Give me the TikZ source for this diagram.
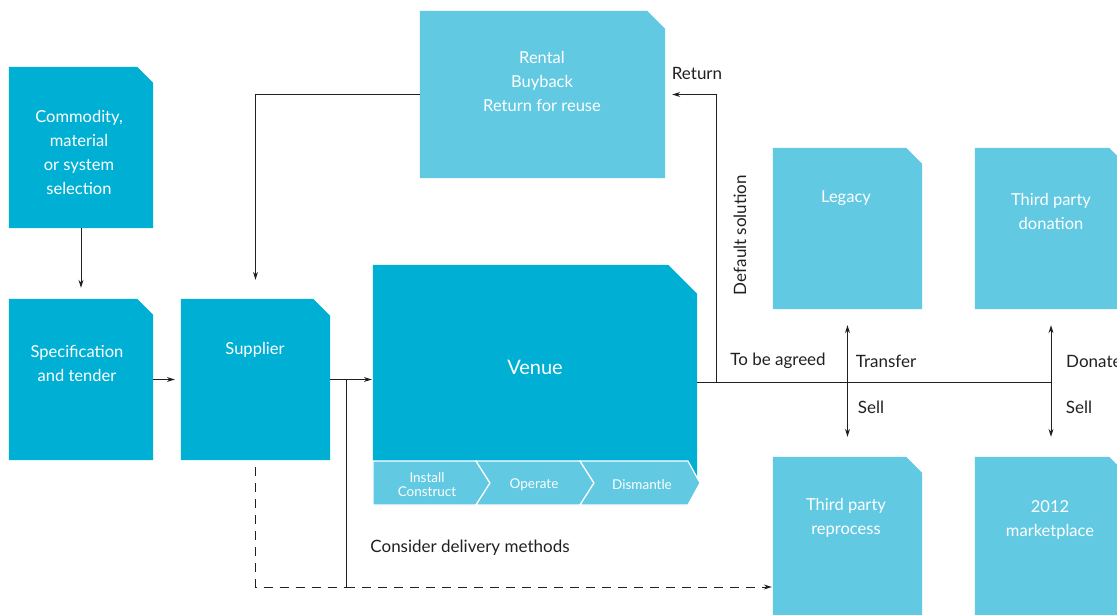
\documentclass[tikz,border=0pt]{standalone}
\usepackage{fontspec}
\setmainfont{Lato}
\usetikzlibrary{calc,arrows.meta}
\definecolor{dk}{RGB}{0,176,212}
\definecolor{lt}{RGB}{98,201,227}
\definecolor{ln}{RGB}{35,31,32}
\newcommand\cutfill[3]{\fill[#3] (#1.south west) -- (#1.north west) -- ([xshift=-#2pt]#1.north east) -- ([yshift=-#2pt]#1.north east) -- (#1.south east) -- cycle;}
\begin{document}
\begin{tikzpicture}[x=1pt,y=-1pt,
  bx/.style={inner sep=0pt,draw=none},
  wt/.style={text=white,align=center,inner sep=0pt,font=\fontsize{16.5}{24}\selectfont},
  lb/.style={text=ln,inner sep=0pt,font=\fontsize{17}{20}\selectfont},
  sm/.style={text=white,align=center,inner sep=0pt,font=\fontsize{13.5}{14}\selectfont},
  arr/.style={draw=ln,line width=1pt,-{Stealth[length=8pt,width=5pt]}},
  ln/.style={draw=ln,line width=1pt},
  dsh/.style={draw=ln,line width=1pt,dash pattern=on 9pt off 7pt}]
\useasboundingbox (0,0) rectangle (1117,615);
\clip (0,0) rectangle (1117,615);
% box nodes
\node[bx,minimum width=144pt,minimum height=161pt] (com) at (81,147.5) {};
\node[bx,minimum width=144pt,minimum height=161pt] (spec) at (81,379.5) {};
\node[bx,minimum width=149pt,minimum height=161pt] (sup) at (255.5,379.5) {};
\node[bx,minimum width=324pt,minimum height=213pt] (ven) at (535,371.5) {};
\node[bx,minimum width=245pt,minimum height=167pt] (rent) at (542.5,94.5) {};
\node[bx,minimum width=149pt,minimum height=161pt] (leg) at (847.5,228.5) {};
\node[bx,minimum width=150pt,minimum height=161pt] (don) at (1050,228.5) {};
\node[bx,minimum width=149pt,minimum height=161pt] (rep) at (847.5,537.5) {};
\node[bx,minimum width=150pt,minimum height=161pt] (mkt) at (1050,537.5) {};
\cutfill{com}{16}{dk}
\cutfill{spec}{16}{dk}
\cutfill{sup}{17}{dk}
\cutfill{ven}{29}{dk}
\cutfill{rent}{18}{lt}
\cutfill{leg}{16}{lt}
\cutfill{don}{16}{lt}
\cutfill{rep}{16}{lt}
\cutfill{mkt}{16}{lt}
% strip of stages
\begin{scope}[fill=lt,draw=white,line width=1.2pt]
\filldraw (373,461) -- (476,461) -- (490,483) -- (476,505) -- (373,505) -- cycle;
\filldraw (476,461) -- (580,461) -- (594,483) -- (580,505) -- (476,505) -- (490,483) -- cycle;
\filldraw (580,461) -- (688,461) -- (700,483) -- (688,505) -- (580,505) -- (594,483) -- cycle;
\end{scope}
% texts in boxes
\node[wt] (tcom) at (79,152) {Commodity,\\material\\or system\\selection};
\node[wt] (tspec) at (77,363) {Specification\\and tender};
\node[wt] (tsup) at (255,350) {Supplier};
\node[wt,font=\fontsize{20}{24}\selectfont] (tven) at (535,367) {Venue};
\node[wt] (trent) at (542,81) {Rental\\Buyback\\Return for reuse};
\node[wt] (tleg) at (846,198) {Legacy};
\node[wt] (tdon) at (1051,211.5) {Third party\\donation};
\node[wt] (trep) at (846,518) {Third party\\reprocess};
\node[wt] (tmkt) at (1050,520) {2012\\marketplace};
\node[sm] (s1) at (427,484.5) {Install\\Construct};
\node[sm] (s2) at (534,485) {Operate};
\node[sm] (s3) at (642,485) {Dismantle};
% connectors
\draw[arr,shorten >=11pt] (com.south) -- (spec.north);
\draw[arr,shorten >=6pt] (spec.east) -- (sup.west);
\draw[arr,shorten >=1pt] (sup.east) -- (sup.east -| ven.west);
\coordinate (rl) at (sup.north |- rent.west);
\draw[arr,shorten >=19pt] (rent.west) -- (rl) -- (sup.north);
\coordinate (br) at (346,379.5);
\coordinate (d1) at (sup.south |- 0,587);
\coordinate (bd) at (346,587);
\draw[ln] (br) -- (bd);
\draw[dsh] ($(sup.south)+(0,7)$) -- (d1) -- (bd);
\draw[dsh,-{Stealth[length=8pt,width=5pt]},shorten >=1pt] (bd) -- (bd -| rep.west);
\coordinate (jv) at (716,382);
\coordinate (je) at (1052,382);
\draw[ln] (ven.east |- jv) -- (je);
\draw[arr,shorten >=7pt] (jv) |- (rent.east);
\draw[draw=ln,line width=1pt,{Stealth[length=8pt,width=5pt]}-{Stealth[length=8pt,width=5pt]}] ($(leg.south)+(0,16)$) -- ($(rep.north)+(0,-20)$);
\draw[draw=ln,line width=1pt,{Stealth[length=8pt,width=5pt]}-{Stealth[length=8pt,width=5pt]}] ($(don.south)+(1,16)$) -- ($(mkt.north)+(1,-20)$);
% labels
\node[lb] (lret) at (697,73) {Return};
\node[lb,rotate=90] (ldef) at (740,235) {Default solution};
\node[lb] (lagr) at (778,361) {To be agreed};
\node[lb] (ltr) at (886,361) {Transfer};
\node[lb] (ls1) at (871,407) {Sell};
\node[lb,anchor=west] (ldon) at (1066,361) {Donate};
\node[lb] (ls2) at (1079,407) {Sell};
\node[lb] (lcon) at (470,548) {Consider delivery methods};
\end{tikzpicture}
\end{document}
